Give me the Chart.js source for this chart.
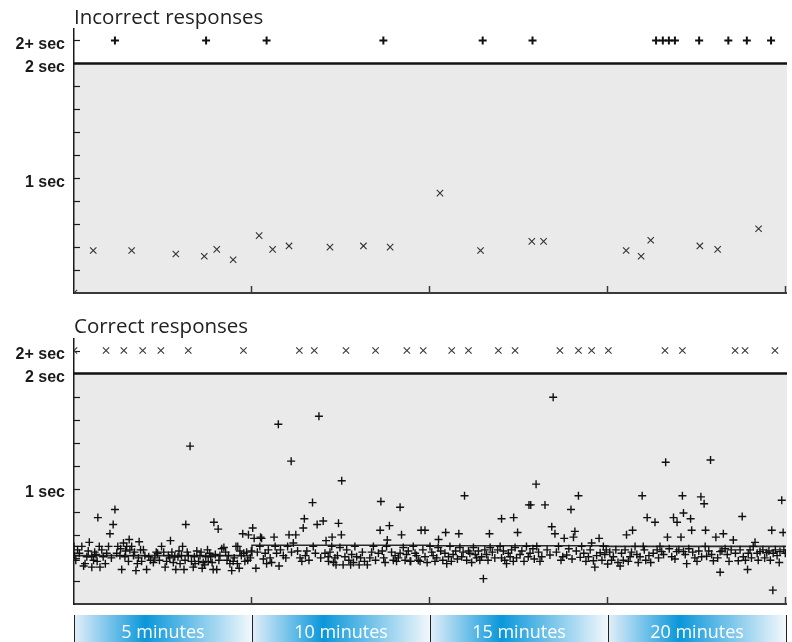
<!DOCTYPE html>
<html>
<head>
<meta charset="utf-8">
<script src="https://cdn.jsdelivr.net/npm/chart.js@4.4.0/dist/chart.umd.min.js"></script>
<style>
  html, body { margin: 0; padding: 0; background: #ffffff; }
  #wrap { position: relative; width: 792px; height: 642px; }
  canvas { position: absolute; left: 0; }
  #incorrect { top: 0; }
  #correct { top: 300px; }
</style>
</head>
<body>
<div id="wrap">
  <canvas id="incorrect" width="792" height="300"></canvas>
  <canvas id="correct" width="792" height="342"></canvas>
</div>
<script>
// Response times (seconds) against session time (minutes).
// Anything slower than 2 s is plotted on the "2+ sec" row.
const OVER_VALUE = 2.2;

const yTickValues = [0.2, 0.4, 0.6, 0.8, 1, 1.2, 1.4, 1.6, 1.8, 2, 2.2];
const yTickLabels = ['', '', '', '', '1 sec', '', '', '', '', '2 sec', '2+ sec'];

const blockEnds = [5, 10, 15, 20];
const blockLabels = ['5 minutes', '10 minutes', '15 minutes', '20 minutes'];
const blockMeans = [0.42, 0.51, 0.505, 0.50];

// Incorrect responses
const incorrectSlowTimes = [1.15, 3.71, 5.41, 8.69, 11.48, 12.88, 16.35, 16.54, 16.71, 16.88, 17.56, 18.38, 18.90, 19.58];
const incorrectResponses = [
  [0, 0], [0.54, 0.37], [1.62, 0.37], [2.86, 0.34], [3.66, 0.32], [4.01, 0.38], [4.47, 0.29],
  [5.20, 0.50], [5.58, 0.38], [6.04, 0.41], [7.19, 0.40], [8.13, 0.41], [8.88, 0.40],
  [10.28, 0.87], [11.42, 0.37], [12.86, 0.45], [13.19, 0.45],
  [15.51, 0.37], [15.93, 0.32], [16.20, 0.46], [17.58, 0.41], [18.08, 0.38], [19.23, 0.56]
];

// Correct responses
const correctSlowTimes = [0, 0.90, 1.40, 1.93, 2.44, 3.21, 4.76, 6.33, 6.75, 7.64, 8.47, 9.35, 9.81,
  10.61, 11.08, 11.92, 12.39, 13.65, 14.17, 14.54, 15.01, 16.60, 17.09, 18.57, 18.85, 19.69];
const correctResponses = [
  // 0 - 5 min
  [0.00, 0.50], [0.02, 0.42], [0.05, 0.38], [0.10, 0.47], [0.15, 0.44], [0.22, 0.50], [0.27, 0.33],
  [0.31, 0.35], [0.36, 0.41], [0.40, 0.46], [0.43, 0.535], [0.50, 0.41], [0.50, 0.32], [0.55, 0.38],
  [0.58, 0.45], [0.62, 0.43], [0.65, 0.37], [0.67, 0.75], [0.71, 0.50], [0.73, 0.32], [0.78, 0.47],
  [0.82, 0.41], [0.88, 0.35], [0.92, 0.44], [0.97, 0.50], [1.01, 0.61], [1.05, 0.40], [1.10, 0.69],
  [1.15, 0.82], [1.20, 0.44], [1.23, 0.50], [1.29, 0.42], [1.31, 0.48], [1.34, 0.30], [1.39, 0.53],
  [1.43, 0.41], [1.45, 0.46], [1.48, 0.50], [1.53, 0.37], [1.55, 0.56], [1.57, 0.47], [1.62, 0.50],
  [1.67, 0.42], [1.70, 0.45], [1.74, 0.29], [1.78, 0.35], [1.81, 0.40], [1.83, 0.54], [1.87, 0.47],
  [1.90, 0.37], [1.95, 0.47], [1.99, 0.42], [2.04, 0.30], [2.10, 0.41], [2.15, 0.38], [2.23, 0.36],
  [2.27, 0.40], [2.31, 0.45], [2.35, 0.44], [2.40, 0.38], [2.46, 0.50], [2.52, 0.45], [2.56, 0.32],
  [2.60, 0.37], [2.65, 0.42], [2.69, 0.40], [2.71, 0.55], [2.75, 0.45], [2.79, 0.36], [2.83, 0.41],
  [2.86, 0.30], [2.92, 0.41], [2.95, 0.46], [2.98, 0.35], [3.02, 0.42], [3.05, 0.50], [3.09, 0.30],
  [3.12, 0.38], [3.14, 0.69], [3.18, 0.45], [3.21, 0.42], [3.26, 1.37], [3.30, 0.37], [3.35, 0.32],
  [3.38, 0.41], [3.40, 0.35], [3.45, 0.46], [3.50, 0.37], [3.54, 0.42], [3.57, 0.45], [3.60, 0.31],
  [3.63, 0.36], [3.67, 0.34], [3.70, 0.41], [3.75, 0.47], [3.77, 0.37], [3.81, 0.44], [3.84, 0.41],
  [3.88, 0.36], [3.91, 0.30], [3.93, 0.71], [3.97, 0.43], [4.01, 0.30], [4.05, 0.65], [4.07, 0.38],
  [4.10, 0.42], [4.15, 0.48], [4.21, 0.49], [4.26, 0.45], [4.30, 0.38], [4.34, 0.42], [4.38, 0.35],
  [4.43, 0.29], [4.47, 0.37], [4.50, 0.40], [4.55, 0.50], [4.59, 0.35], [4.60, 0.50], [4.64, 0.31],
  [4.66, 0.46], [4.70, 0.42], [4.74, 0.61], [4.77, 0.44], [4.80, 0.37], [4.85, 0.45], [4.88, 0.38],
  [4.90, 0.60], [4.95, 0.40], [4.98, 0.46],
  // 5 - 10 min
  [5.02, 0.66], [5.06, 0.57], [5.11, 0.31], [5.15, 0.45], [5.22, 0.50], [5.24, 0.58], [5.27, 0.57],
  [5.32, 0.39], [5.37, 0.44], [5.41, 0.35], [5.46, 0.47], [5.51, 0.40], [5.55, 0.36], [5.62, 0.58],
  [5.65, 0.50], [5.69, 0.44], [5.74, 1.56], [5.76, 0.33], [5.80, 0.47], [5.88, 0.42], [5.95, 0.40],
  [6.00, 0.50], [6.04, 0.60], [6.10, 1.24], [6.11, 0.45], [6.16, 0.53], [6.23, 0.60], [6.28, 0.46],
  [6.35, 0.40], [6.40, 0.37], [6.44, 0.66], [6.47, 0.74], [6.50, 0.42], [6.54, 0.46], [6.60, 0.38],
  [6.70, 0.88], [6.72, 0.50], [6.78, 0.44], [6.83, 0.69], [6.88, 1.63], [6.93, 0.40], [7.00, 0.72],
  [7.05, 0.44], [7.08, 0.55], [7.14, 0.41], [7.15, 0.37], [7.19, 0.45], [7.24, 0.50], [7.25, 0.58],
  [7.29, 0.36], [7.33, 0.40], [7.36, 0.34], [7.40, 0.42], [7.43, 0.70], [7.47, 0.49], [7.51, 0.60],
  [7.52, 1.07], [7.56, 0.34], [7.61, 0.41], [7.66, 0.47], [7.72, 0.38], [7.77, 0.34], [7.80, 0.43],
  [7.85, 0.36], [7.89, 0.50], [7.94, 0.41], [8.01, 0.34], [8.05, 0.40], [8.10, 0.45], [8.16, 0.37],
  [8.24, 0.34], [8.31, 0.40], [8.36, 0.45], [8.41, 0.50], [8.47, 0.38], [8.55, 0.44], [8.60, 0.64],
  [8.62, 0.89], [8.66, 0.46], [8.70, 0.40], [8.74, 0.36], [8.78, 0.50], [8.80, 0.555], [8.86, 0.68],
  [8.92, 0.45], [8.97, 0.38], [9.02, 0.42], [9.06, 0.37], [9.11, 0.40], [9.16, 0.84], [9.16, 0.44],
  [9.20, 0.60], [9.25, 0.49], [9.30, 0.38], [9.34, 0.43], [9.39, 0.46], [9.44, 0.37], [9.46, 0.37],
  [9.53, 0.50], [9.58, 0.44], [9.62, 0.42], [9.67, 0.38], [9.72, 0.37], [9.75, 0.64], [9.80, 0.47],
  [9.86, 0.64], [9.86, 0.41], [9.92, 0.36],
  // 10 - 15 min
  [10.00, 0.50], [10.05, 0.45], [10.09, 0.42], [10.14, 0.37], [10.19, 0.40], [10.23, 0.49], [10.24, 0.56],
  [10.30, 0.46], [10.36, 0.38], [10.42, 0.44], [10.44, 0.62], [10.47, 0.35], [10.52, 0.41], [10.56, 0.50],
  [10.60, 0.37], [10.65, 0.43], [10.72, 0.46], [10.77, 0.39], [10.81, 0.61], [10.84, 0.49], [10.89, 0.41],
  [10.93, 0.45], [10.97, 0.94], [11.03, 0.38], [11.08, 0.46], [11.12, 0.44], [11.17, 0.36], [11.22, 0.49],
  [11.27, 0.43], [11.31, 0.40], [11.36, 0.46], [11.40, 0.38], [11.45, 0.41], [11.50, 0.22], [11.54, 0.47],
  [11.59, 0.43], [11.63, 0.38], [11.67, 0.61], [11.69, 0.49], [11.75, 0.45], [11.82, 0.40], [11.90, 0.47],
  [11.97, 0.50], [12.01, 0.74], [12.01, 0.40], [12.06, 0.46], [12.10, 0.38], [12.15, 0.35], [12.20, 0.44],
  [12.25, 0.41], [12.29, 0.47], [12.34, 0.37], [12.35, 0.75], [12.39, 0.49], [12.43, 0.40], [12.46, 0.62],
  [12.53, 0.43], [12.58, 0.46], [12.64, 0.37], [12.71, 0.50], [12.76, 0.41], [12.78, 0.86], [12.81, 0.44],
  [12.83, 0.86], [12.89, 0.48], [12.93, 0.39], [12.98, 1.04], [13.00, 0.50], [13.05, 0.45], [13.09, 0.37],
  [13.14, 0.41], [13.23, 0.86], [13.29, 0.47], [13.37, 0.425], [13.42, 0.67], [13.46, 1.795], [13.51, 0.61],
  [13.55, 0.45], [13.61, 0.50], [13.68, 0.38], [13.73, 0.41], [13.77, 0.57], [13.84, 0.425], [13.90, 0.48],
  [13.96, 0.82], [13.99, 0.39], [14.03, 0.58], [14.07, 0.63], [14.11, 0.46], [14.17, 0.94], [14.22, 0.405],
  [14.26, 0.50], [14.32, 0.44], [14.38, 0.37], [14.45, 0.41], [14.50, 0.47], [14.54, 0.53], [14.59, 0.375],
  [14.63, 0.32], [14.68, 0.42], [14.75, 0.57], [14.78, 0.445], [14.83, 0.38], [14.87, 0.50], [14.91, 0.43],
  [14.95, 0.47], [14.99, 0.347],
  // 15 - 20 min
  [15.05, 0.45], [15.10, 0.38], [15.15, 0.41], [15.22, 0.47], [15.28, 0.36], [15.34, 0.33], [15.38, 0.44],
  [15.43, 0.38], [15.48, 0.47], [15.52, 0.60], [15.57, 0.37], [15.62, 0.41], [15.66, 0.45], [15.69, 0.64],
  [15.76, 0.50], [15.81, 0.43], [15.85, 0.36], [15.90, 0.41], [15.96, 0.94], [15.99, 0.50], [16.02, 0.47],
  [16.06, 0.38], [16.10, 0.75], [16.15, 0.42], [16.20, 0.36], [16.27, 0.44], [16.32, 0.71], [16.38, 0.47],
  [16.42, 0.40], [16.46, 0.50], [16.51, 0.455], [16.56, 0.43], [16.62, 1.23], [16.67, 0.58], [16.72, 0.48],
  [16.79, 0.41], [16.84, 0.75], [16.88, 0.39], [16.93, 0.455], [16.94, 0.71], [16.99, 0.47], [17.05, 0.58],
  [17.09, 0.94], [17.12, 0.79], [17.12, 0.455], [17.17, 0.43], [17.21, 0.35], [17.27, 0.48], [17.32, 0.74],
  [17.35, 0.64], [17.38, 0.45], [17.44, 0.40], [17.50, 0.37], [17.55, 0.46], [17.61, 0.93], [17.63, 0.41],
  [17.70, 0.87], [17.73, 0.50], [17.74, 0.64], [17.77, 0.415], [17.83, 0.46], [17.88, 1.25], [17.91, 0.43],
  [17.96, 0.375], [18.03, 0.58], [18.08, 0.40], [18.15, 0.455], [18.15, 0.275], [18.20, 0.46], [18.24, 0.61],
  [18.29, 0.48], [18.35, 0.43], [18.40, 0.37], [18.46, 0.47], [18.52, 0.555], [18.58, 0.44], [18.66, 0.375],
  [18.71, 0.47], [18.77, 0.76], [18.80, 0.41], [18.86, 0.38], [18.92, 0.30], [18.94, 0.44], [18.99, 0.47],
  [19.03, 0.40], [19.08, 0.50], [19.13, 0.535], [19.19, 0.44], [19.22, 0.38], [19.27, 0.455], [19.35, 0.47],
  [19.40, 0.40], [19.46, 0.445], [19.52, 0.46], [19.56, 0.38], [19.60, 0.64], [19.63, 0.12], [19.64, 0.44],
  [19.70, 0.47], [19.75, 0.42], [19.81, 0.36], [19.83, 0.455], [19.88, 0.90], [19.92, 0.62], [19.94, 0.47],
  [19.98, 0.44]
];

const toPoints = pairs => pairs.map(([x, y]) => ({ x, y }));
const slowPoints = times => times.map(x => ({ x, y: OVER_VALUE }));

// Step line through the mean of each five-minute block
const meanLine = [];
blockMeans.forEach((m, i) => {
  const start = i === 0 ? 0 : blockEnds[i - 1];
  meanLine.push({ x: start, y: m }, { x: blockEnds[i], y: m });
});

// Shared panel decoration: shaded region below 2 s, threshold rule,
// inward tick marks, panel title and (optionally) the block legend strip.
const panelDecor = {
  id: 'panelDecor',
  beforeDraw(chart, args, opts) {
    const { ctx, chartArea: a, scales: { y } } = chart;
    const y2 = y.getPixelForValue(2);
    ctx.save();
    ctx.fillStyle = '#eaeaea';
    ctx.fillRect(a.left, y2, a.right - a.left + 1, a.bottom - y2);
    ctx.fillStyle = '#222222';
    ctx.font = '20.5px "Open Sans"';
    ctx.textAlign = 'left';
    ctx.textBaseline = 'alphabetic';
    ctx.fillText(opts.title, a.left, opts.titleY);
    ctx.restore();
  },
  beforeDatasetsDraw(chart) {
    const { ctx, chartArea: a, scales: { x, y } } = chart;
    ctx.save();
    ctx.strokeStyle = '#1a1a1a';
    ctx.lineWidth = 1.2;
    yTickValues.forEach(v => {
      if (v === 2) return;
      const py = Math.round(y.getPixelForValue(v)) + 0.5;
      ctx.beginPath();
      ctx.moveTo(a.left, py);
      ctx.lineTo(a.left + 6, py);
      ctx.stroke();
    });
    ctx.strokeStyle = '#3a3a3a';
    ctx.lineWidth = 1.5;
    blockEnds.forEach(v => {
      const px = Math.round(x.getPixelForValue(v)) - 0.5;
      ctx.beginPath();
      ctx.moveTo(px, a.bottom);
      ctx.lineTo(px, a.bottom - 7);
      ctx.stroke();
    });
    const y2 = y.getPixelForValue(2);
    ctx.strokeStyle = '#111111';
    ctx.lineWidth = 2.5;
    ctx.beginPath();
    ctx.moveTo(a.left, y2);
    ctx.lineTo(a.right + 1, y2);
    ctx.stroke();
    ctx.restore();
  },
  afterDraw(chart, args, opts) {
    if (!opts.strip) return;
    const { ctx, chartArea: a, scales: { x } } = chart;
    const top = a.bottom + 11;
    const bottom = chart.height;
    ctx.save();
    let prev = 0;
    blockEnds.forEach((end, i) => {
      const x0 = x.getPixelForValue(prev);
      const x1 = x.getPixelForValue(end);
      const g = ctx.createLinearGradient(x0, 0, x1, 0);
      g.addColorStop(0, '#e2eff9');
      g.addColorStop(0.4, '#0a97da');
      g.addColorStop(1, '#f3f8fc');
      ctx.fillStyle = g;
      ctx.fillRect(x0, top, x1 - x0, bottom - top);
      ctx.fillStyle = '#ffffff';
      ctx.font = '18px "Open Sans"';
      ctx.textAlign = 'center';
      ctx.textBaseline = 'alphabetic';
      ctx.fillText(blockLabels[i], (x0 + x1) / 2, bottom - 4);
      prev = end;
    });
    ctx.strokeStyle = '#222222';
    ctx.lineWidth = 1;
    [0, ...blockEnds].forEach(v => {
      const px = Math.round(x.getPixelForValue(v)) + 0.5;
      ctx.beginPath();
      ctx.moveTo(px, top);
      ctx.lineTo(px, bottom);
      ctx.stroke();
    });
    ctx.restore();
  }
};

function makeScales(xAxisHeight) {
  return {
    x: {
      type: 'linear', min: 0, max: 20,
      afterFit(s) { s.height = xAxisHeight; s.paddingLeft = 0; s.paddingRight = 0; },
      ticks: { display: false },
      grid: { display: false, drawTicks: false },
      border: { display: true, color: '#3a3a3a', width: 2 }
    },
    y: {
      type: 'linear', min: 0, max: 2.3,
      afterBuildTicks(s) { s.ticks = yTickValues.map(v => ({ value: v })); },
      afterFit(s) { s.width = 74; s.paddingTop = 0; s.paddingBottom = 0; },
      ticks: {
        autoSkip: false,
        padding: 9,
        labelOffset: 4,
        color: '#1a1a1a',
        font: { family: '"Liberation Sans", Arial, sans-serif', size: 16, weight: 'bold' },
        callback(value) {
          const i = yTickValues.indexOf(value);
          return i >= 0 ? yTickLabels[i] : '';
        }
      },
      grid: { display: false, drawTicks: false },
      border: { display: true, color: '#1a1a1a', width: 1.5 }
    }
  };
}

const common = {
  responsive: false,
  animation: false,
  events: [],
  devicePixelRatio: 1
};

new Chart(document.getElementById('incorrect'), {
  type: 'scatter',
  data: {
    datasets: [
      {
        label: 'Incorrect, over 2 s',
        data: slowPoints(incorrectSlowTimes),
        pointStyle: 'cross', pointRadius: 4, borderWidth: 2,
        borderColor: '#111111', backgroundColor: '#111111', clip: 0
      },
      {
        label: 'Incorrect',
        data: toPoints(incorrectResponses),
        pointStyle: 'crossRot', pointRadius: 4.5, borderWidth: 1.1,
        borderColor: '#333333', backgroundColor: '#333333', clip: 0
      }
    ]
  },
  options: {
    ...common,
    layout: { padding: { top: 29, right: 6, left: 0, bottom: 0 } },
    scales: makeScales(7),
    plugins: {
      legend: { display: false },
      tooltip: { enabled: false },
      panelDecor: { title: 'Incorrect responses', titleY: 24, strip: false }
    }
  },
  plugins: [panelDecor]
});

new Chart(document.getElementById('correct'), {
  type: 'scatter',
  data: {
    datasets: [
      {
        label: 'Correct, over 2 s',
        data: slowPoints(correctSlowTimes),
        pointStyle: 'crossRot', pointRadius: 4.5, borderWidth: 1.1,
        borderColor: '#3a3a3a', backgroundColor: '#3a3a3a', clip: 0
      },
      {
        label: 'Correct',
        data: toPoints(correctResponses),
        pointStyle: 'cross', pointRadius: 4, borderWidth: 1.4,
        borderColor: '#111111', backgroundColor: '#111111', clip: 0
      },
      {
        type: 'line',
        label: 'Block mean',
        data: meanLine,
        borderColor: '#2a2a2a', borderWidth: 1.6,
        pointRadius: 0, fill: false, tension: 0
      }
    ]
  },
  options: {
    ...common,
    layout: { padding: { top: 39, right: 6, left: 0, bottom: 0 } },
    scales: makeScales(38),
    plugins: {
      legend: { display: false },
      tooltip: { enabled: false },
      panelDecor: { title: 'Correct responses', titleY: 33, strip: true }
    }
  },
  plugins: [panelDecor]
});
</script>
</body>
</html>
